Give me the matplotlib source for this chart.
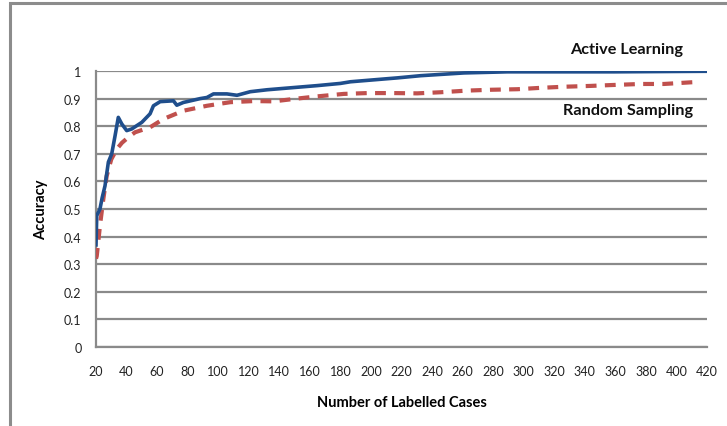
import matplotlib
matplotlib.use("Agg")
import matplotlib.pyplot as plt
from matplotlib.patches import Rectangle

# Data
active_x = [20, 20.5, 22.6, 24, 25.9, 28.1, 30.3, 32.5, 34.6, 36.9, 40.1, 43.4, 50, 55.4, 57.6, 62,
            70.7, 72.9, 77.2, 88.2, 92.6, 96.9, 105.7, 112.3, 121, 132, 142.8, 164.7, 180, 186.6,
            208.4, 217.2, 232.5, 260.9, 289.3, 359, 420]
active_y = [0.37, 0.476, 0.50, 0.54, 0.584, 0.67, 0.70, 0.766, 0.832, 0.808, 0.784, 0.79, 0.814,
            0.845, 0.874, 0.889, 0.892, 0.876, 0.886, 0.90, 0.904, 0.917, 0.917, 0.912, 0.925,
            0.932, 0.937, 0.947, 0.955, 0.961, 0.971, 0.975, 0.983, 0.993, 0.997, 0.997, 0.999]

random_x = [20, 20.5, 22.6, 24.8, 27, 30, 33.6, 37, 41.2, 45.6, 52.1, 55.4, 64.1, 77.2, 92.6,
            107.9, 123.1, 136.3, 151.6, 164.7, 182.2, 197.5, 215, 230.3, 245.6, 263, 278.4,
            295.9, 311.1, 326.4, 343.9, 357, 376.7, 391.8, 409.5, 414]
random_y = [0.32, 0.33, 0.44, 0.536, 0.62, 0.68, 0.717, 0.74, 0.76, 0.778, 0.79, 0.796, 0.826,
            0.856, 0.874, 0.887, 0.891, 0.89, 0.90, 0.908, 0.917, 0.92, 0.92, 0.919, 0.923, 0.929,
            0.932, 0.934, 0.939, 0.943, 0.946, 0.949, 0.953, 0.953, 0.959, 0.96]

x_ticks = list(range(20, 421, 20))
y_ticks = [0, 0.1, 0.2, 0.3, 0.4, 0.5, 0.6, 0.7, 0.8, 0.9, 1]
y_tick_labels = ["0", "0.1", "0.2", "0.3", "0.4", "0.5", "0.6", "0.7", "0.8", "0.9", "1"]

plt.rcParams['font.family'] = ['Lato', 'DejaVu Sans']

W, H = 727, 427
fig = plt.figure(figsize=(W / 100, H / 100), dpi=100)
fig.patch.set_facecolor("white")

# Outer chart border
fig.patches.append(Rectangle((9.5 / W, -0.1), 1.2, 1.1 - 4.5 / H, transform=fig.transFigure,
                             fill=False, edgecolor="#8c8c8c", linewidth=2.2, zorder=0))

ax = fig.add_axes([96 / W, (H - 348) / H, (707 - 96) / W, (348 - 72) / H])
ax.set_xlim(20, 420)
ax.set_ylim(0, 1)

for y in y_ticks:
    ax.axhline(y, color="#8a8a8a", linewidth=1.6, zorder=1)

ax.plot(random_x, random_y, color="#C0504D", linewidth=3.0, dashes=(2.6, 2.0),
        dash_capstyle="butt", zorder=3)
ax.plot(active_x, active_y, color="#1F4E8C", linewidth=2.6, zorder=4,
        solid_joinstyle="round")

for side in ["top", "right"]:
    ax.spines[side].set_visible(False)
for side in ["left", "bottom"]:
    ax.spines[side].set_color("#8a8a8a")
    ax.spines[side].set_linewidth(1.6)

ax.set_xticks(x_ticks)
ax.set_xticklabels([str(v) for v in x_ticks])
ax.set_yticks(y_ticks)
ax.set_yticklabels(y_tick_labels)
ax.tick_params(axis="both", length=0, labelsize=9, colors="#222222")
ax.tick_params(axis="x", pad=13)
ax.tick_params(axis="y", pad=10.5)

ax.set_xlabel("Number of Labelled Cases", fontsize=10.5, fontweight="bold", labelpad=13)
ax.set_ylabel("Accuracy", fontsize=10.5, fontweight="bold", labelpad=11)

t_active = fig.text(626.5 / W, (H - 50) / H, "Active Learning",
                    ha="center", va="center", fontsize=10, fontweight="bold", color="#111111")
t_random = fig.text(628 / W, (H - 111) / H, "Random Sampling",
                    ha="center", va="center", fontsize=10, fontweight="bold", color="#111111")


def fit_width(txt, target_px):
    fig.canvas.draw()
    w = txt.get_window_extent().width
    txt.set_fontsize(txt.get_fontsize() * target_px / w)


# size the annotation texts to match the reference widths (average)
fig.canvas.draw()
wa = t_active.get_window_extent().width
wr = t_random.get_window_extent().width
scale = ((113 / wa) + (130 / wr)) / 2
t_active.set_fontsize(10 * scale)
t_random.set_fontsize(10 * scale)
fit_width(ax.xaxis.label, 170)

fig.savefig("out.png", dpi=100, facecolor="white")
